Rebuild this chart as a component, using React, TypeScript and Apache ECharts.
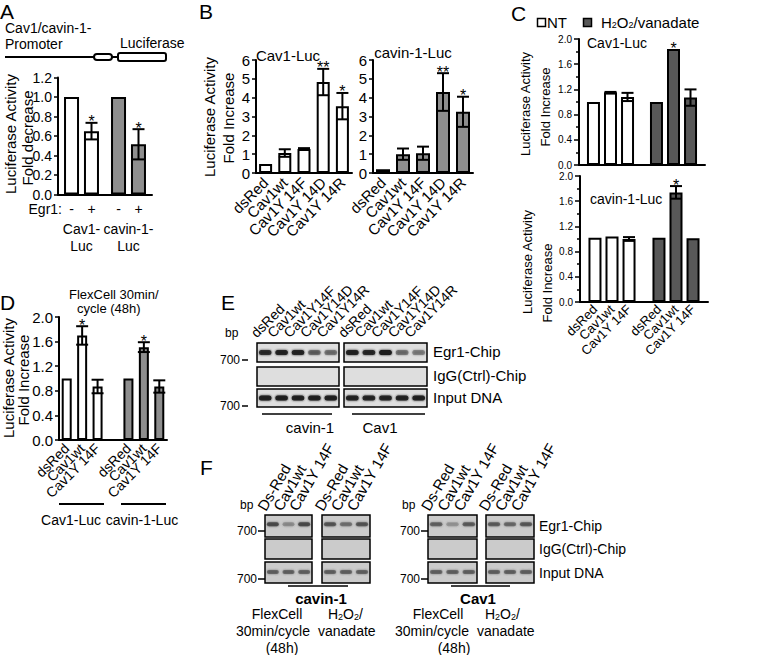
import React, { useEffect, useRef } from 'react';
import * as echarts from 'echarts';

const FONT = '"Liberation Sans", Arial, Helvetica, sans-serif';
const BLACK = '#000000';
const WHITE = '#ffffff';
const GRAY = '#8e8e8e';
const DARK = '#585858';

// ---------- Panel A ----------
const aCategories = ['Cav1-\nLuc', 'cavin-1-\nLuc'];
const aMinusValues = [1.0, 1.0];
const aPlusValues = [0.65, 0.515];
const aPlusErrors = [0.085, 0.155];
const aPlusStars = ['*', '*'];

// ---------- Panel B ----------
const bConstructs = ['dsRed', 'Cav1wt', 'Cav1Y 14F', 'Cav1Y 14D', 'Cav1Y 14R'];
const bCav1Values = [0.48, 1.06, 1.27, 4.83, 3.55];
const bCav1Errors = [0, 0.2, 0.05, 0.7, 0.7];
const bCav1Stars = ['', '', '', '**', '*'];
const bCavinValues = [0.2, 1.0, 1.05, 4.3, 3.25];
const bCavinErrors = [0, 0.3, 0.35, 1.0, 0.8];
const bCavinStars = ['', '', '', '**', '*'];

// ---------- Panel C ----------
const cGroups = ['NT', 'H2O2/vanadate'];
const cConstructs = ['dsRed', 'Cav1wt', 'Cav1Y 14F'];
const cCav1DsRed = [1.0, 1.0];
const cCav1Wt = [1.15, 1.84];
const cCav1Y14F = [1.08, 1.07];
const cCav1DsRedErr = [0, 0];
const cCav1WtErr = [0.01, 0];
const cCav1Y14FErr = [0.065, 0.13];
const cCav1WtStars = ['', '*'];
const cCavinDsRed = [1.02, 1.02];
const cCavinWt = [1.04, 1.74];
const cCavinY14F = [1.0, 1.01];
const cCavinDsRedErr = [0, 0];
const cCavinWtErr = [0, 0.1];
const cCavinY14FErr = [0.03, 0];
const cCavinWtStars = ['', '*'];

// ---------- Panel D ----------
const dConstructs = ['dsRed', 'Cav1wt', 'Cav1Y 14F'];
const dReporters = ['Cav1-Luc', 'cavin-1-Luc'];
const dCav1Values = [1.0, 1.7, 0.87];
const dCav1Errors = [0, 0.15, 0.11];
const dCav1Stars = ['', '*', ''];
const dCavinValues = [1.0, 1.51, 0.87];
const dCavinErrors = [0, 0.08, 0.1];
const dCavinStars = ['', '*', ''];

// ---------- Panel E (ChIP gels) ----------
const eLanes = ['dsRed', 'Cav1wt', 'Cav1Y14F', 'Cav1Y14D', 'Cav1Y14R'];
const eRows = ['Egr1-Chip', 'IgG(Ctrl)-Chip', 'Input DNA'];
const eCavin1Egr1 = [0.8, 0.9, 0.9, 0.45, 0.4];
const eCavin1IgG = [0, 0, 0, 0, 0];
const eCavin1Input = [0.95, 0.95, 0.92, 0.92, 0.95];
const eCav1Egr1 = [0.92, 0.85, 1.0, 0.4, 0.35];
const eCav1IgG = [0, 0, 0, 0, 0];
const eCav1Input = [0.9, 0.88, 0.88, 0.9, 0.92];

// ---------- Panel F (ChIP gels) ----------
const fLanes = ['Ds-Red', 'Cav1wt', 'Cav1Y 14F'];
const fCavin1FlexEgr1 = [0.75, 0.3, 0.75];
const fCavin1H2o2Egr1 = [0.65, 0.45, 0.65];
const fCav1FlexEgr1 = [0.55, 0.25, 0.6];
const fCav1H2o2Egr1 = [0.6, 0.5, 0.62];
const fNoBands = [0, 0, 0];
const fInput = [0.55, 0.55, 0.55];

// ---------------------------------------------------------------
const txt = (text: string, x: number, y: number, size: number, o: any = {}) => ({
  type: 'text',
  x,
  y,
  rotation: o.rotation || 0,
  silent: true,
  z: 50,
  style: {
    text,
    fill: BLACK,
    fontSize: size,
    fontFamily: FONT,
    fontWeight: o.weight || 'normal',
    align: o.align || 'left',
    verticalAlign: o.valign || 'middle',
    textAlign: o.align || 'left',
    textVerticalAlign: o.valign || 'middle',
    rich: o.rich,
  },
});
const vtxt = (text: string, x: number, y: number, size: number) =>
  txt(text, x, y, size, { rotation: Math.PI / 2, align: 'center', valign: 'middle' });
const line = (x1: number, y1: number, x2: number, y2: number, w = 2) => ({
  type: 'line',
  silent: true,
  z: 50,
  shape: { x1, y1, x2, y2 },
  style: { stroke: BLACK, lineWidth: w },
});
const h2o2Rich = (size: number) => ({
  n: { fontSize: size, fontFamily: FONT, fill: BLACK },
  s: { fontSize: Math.round(size * 0.62), fontFamily: FONT, fill: BLACK, verticalAlign: 'bottom' },
});

const gel = (x: number, y: number, w: number, h: number, bands: number[], bg: string, band: string, bh: number, pos = 0.5) => {
  const els: any[] = [
    { type: 'rect', silent: true, z: 40, shape: { x, y, width: w, height: h }, style: { fill: bg, stroke: BLACK, lineWidth: 1.5 } },
  ];
  const lw = w / bands.length;
  bands.forEach((b, i) => {
    if (b <= 0) return;
    const cx = x + lw * (i + 0.5);
    els.push({
      type: 'rect',
      silent: true,
      z: 41,
      shape: { x: cx - lw * 0.38, y: y + h * pos - bh / 2, width: lw * 0.76, height: bh, r: bh / 2 },
      style: { fill: band, opacity: b, shadowBlur: 2, shadowColor: band },
    });
  });
  return els;
};

const laneLabels = (x: number, w: number, labels: string[], y: number, rot: number, size: number, dx: number) =>
  labels.map((l, i) => txt(l, x + (w / labels.length) * (i + 0.5) + dx, y, size, { rotation: rot, align: 'left', valign: 'bottom' }));

function errorBars(axis: number, values: number[], errors: number[], stars: string[], offset: number, shift = 0, starSize = 16) {
  return {
    type: 'custom',
    xAxisIndex: axis,
    yAxisIndex: axis,
    silent: true,
    z: 10,
    clip: false,
    data: values.map((v, i) => [i + shift, v, errors[i] || 0, i]),
    renderItem: (params: any, api: any) => {
      const ci = api.value(0);
      const m = api.value(1);
      const e = api.value(2);
      const k = api.value(3);
      const top = api.coord([ci, m + e]);
      const bot = api.coord([ci, m - e]);
      const cx = top[0] + offset;
      const ls = { stroke: BLACK, lineWidth: 2 };
      const children: any[] = [];
      if (e > 0) {
        children.push({ type: 'line', shape: { x1: cx, y1: top[1], x2: cx, y2: bot[1] }, style: ls });
        children.push({ type: 'line', shape: { x1: cx - 6, y1: top[1], x2: cx + 6, y2: top[1] }, style: ls });
        children.push({ type: 'line', shape: { x1: cx - 6, y1: bot[1], x2: cx + 6, y2: bot[1] }, style: ls });
      }
      const s = stars[k];
      if (s) {
        children.push({
          type: 'text',
          x: cx,
          y: top[1] + 7,
          style: { text: s, fill: BLACK, fontSize: starSize, fontFamily: FONT, align: 'center', verticalAlign: 'bottom' },
        });
      }
      return { type: 'group', children };
    },
  };
}

const yAxisOf = (grid: number, max: number, interval: number, size: number, digits: number, extra: any = {}) => ({
  type: 'value',
  gridIndex: grid,
  min: 0,
  max,
  interval,
  axisLine: { show: true, lineStyle: { color: BLACK, width: 2 } },
  axisTick: { show: true, length: 4, lineStyle: { color: BLACK, width: 1.5 } },
  splitLine: { show: false },
  axisLabel: { color: BLACK, fontSize: size, fontFamily: FONT, margin: 6, formatter: (v: number) => v.toFixed(digits) },
  ...extra,
});
const xAxisOf = (grid: number, data: string[], label: any) => ({
  type: 'category',
  gridIndex: grid,
  data,
  axisLine: { show: true, onZero: false, lineStyle: { color: BLACK, width: 2 } },
  axisTick: { show: false },
  axisLabel: { color: BLACK, fontFamily: FONT, interval: 0, ...label },
});
const barStyle = { borderColor: BLACK, borderWidth: 2 };

function buildOption() {
  const cColors = [WHITE, DARK];
  const cSeries = (axis: number, names: string[], vals: number[][], errs: number[][], stars: string[][], withLabels: boolean) => {
    const out: any[] = [];
    names.forEach((n, s) => {
      out.push({
        type: 'bar',
        name: n,
        xAxisIndex: axis,
        yAxisIndex: axis,
        barWidth: 13,
        barGap: '31%',
        data: vals[s].map((v, g) => ({ value: v, itemStyle: { color: cColors[g] } })),
        itemStyle: barStyle,
        label: withLabels
          ? { show: true, position: 'bottom', distance: 5, rotate: 45, align: 'right', verticalAlign: 'middle', formatter: '{a}', fontSize: 13, fontFamily: FONT, color: BLACK }
          : { show: false },
      });
      out.push(errorBars(axis, vals[s], errs[s], stars[s], (s - 1) * 17));
    });
    return out;
  };

  const dCategories = [...dConstructs, '', ...dConstructs];
  const pad = ['-', '-', '-', '-'];

  const eGels: any[] = [];
  const eLefts = [257, 344];
  const eWidths = [82, 83];
  const eRowsY = [343, 367, 389];
  const eRowsH = [19, 19, 18];
  const eData = [
    [eCavin1Egr1, eCavin1IgG, eCavin1Input],
    [eCav1Egr1, eCav1IgG, eCav1Input],
  ];
  eData.forEach((rows, g) => {
    rows.forEach((bands, r) => eGels.push(...gel(eLefts[g], eRowsY[r], eWidths[g], eRowsH[r], bands, '#dedede', '#1a1a1a', 5)));
    eGels.push(...laneLabels(eLefts[g], eWidths[g], eLanes, 340, Math.PI / 4, 14, -7));
  });
  eRows.forEach((r, i) => eGels.push(txt(r, 433, eRowsY[i] + eRowsH[i] / 2 - 1, 15)));

  const fGels: any[] = [];
  const fLefts = [265, 322, 428, 486];
  const fWidths = [47, 48, 49, 48];
  const fRowsY = [515, 539, 562];
  const fRowsH = [22, 20, 21];
  const fData = [
    [fCavin1FlexEgr1, fNoBands, fInput],
    [fCavin1H2o2Egr1, fNoBands, fInput],
    [fCav1FlexEgr1, fNoBands, fInput],
    [fCav1H2o2Egr1, fNoBands, fInput],
  ];
  fData.forEach((rows, g) => {
    rows.forEach((bands, r) => fGels.push(...gel(fLefts[g], fRowsY[r], fWidths[g], fRowsH[r], bands, '#cbcbcb', '#3a3a3a', 4, r === 0 ? 0.42 : 0.48)));
    fGels.push(...laneLabels(fLefts[g], fWidths[g], fLanes, 513, Math.PI / 3, 15, -5));
  });
  eRows.forEach((r, i) => fGels.push(txt(r, 539, fRowsY[i] + fRowsH[i] / 2, 14)));

  const graphics: any[] = [
    // Panel A
    txt('A', 0, 1, 21, { valign: 'top' }),
    txt('Cav1/cavin-1-', 5, 28, 14),
    txt('Promoter', 5, 44, 14),
    txt('Luciferase', 120, 43, 14),
    line(5, 57, 94, 57),
    { type: 'rect', silent: true, shape: { x: 94, y: 54, width: 18, height: 6, r: 3 }, style: { fill: WHITE, stroke: BLACK, lineWidth: 2 } },
    line(112, 57, 118, 57),
    { type: 'rect', silent: true, shape: { x: 118, y: 53, width: 48, height: 8, r: 2 }, style: { fill: WHITE, stroke: BLACK, lineWidth: 2 } },
    vtxt('Luciferase Activity', 10, 134, 15),
    vtxt('Fold decrease', 27, 138, 15),
    txt('Egr1:', 62, 209, 14, { align: 'right' }),
    // Panel B
    txt('B', 199, 1, 21, { valign: 'top' }),
    txt('Cav1-Luc', 288, 55, 15, { align: 'center' }),
    txt('cavin-1-Luc', 413, 52, 15, { align: 'center' }),
    vtxt('Luciferase Activity', 209, 117, 15),
    vtxt('Fold Increase', 228, 118, 15),
    // Panel C
    txt('C', 511, 3, 21, { valign: 'top' }),
    { type: 'rect', silent: true, shape: { x: 537.5, y: 18.5, width: 8, height: 8 }, style: { fill: WHITE, stroke: BLACK, lineWidth: 1.5 } },
    txt(cGroups[0], 547, 22, 15),
    { type: 'rect', silent: true, shape: { x: 583.5, y: 18.5, width: 8, height: 8 }, style: { fill: DARK, stroke: BLACK, lineWidth: 1.5 } },
    txt('{n|H}{s|2}{n|O}{s|2}{n|/vanadate}', 601, 22, 15, { rich: h2o2Rich(15) }),
    vtxt('Luciferase Activity', 525, 104, 13),
    vtxt('Fold Increase', 545, 107, 13),
    txt('Cav1-Luc', 587, 43, 14),
    vtxt('Luciferase Activity', 527, 262, 13),
    vtxt('Fold Increase', 547, 283, 13),
    txt('cavin-1-Luc', 590, 199, 14),
    // Panel D
    txt('D', 0, 292, 21, { valign: 'top' }),
    txt('FlexCell 30min/', 69, 294, 13),
    txt('cycle (48h)', 77, 308, 13),
    vtxt('Luciferase Activity', 8, 378, 15),
    vtxt('Fold Increase', 23, 380, 15),
    line(59, 504, 104, 504),
    line(121, 504, 166, 504),
    txt(dReporters[0], 71, 520, 14, { align: 'center' }),
    txt(dReporters[1], 142, 520, 14, { align: 'center' }),
    // Panel E
    txt('E', 221, 292, 21, { valign: 'top' }),
    txt('bp', 225, 333, 12),
    txt('700', 240, 360, 12, { align: 'right' }),
    line(242, 360, 248, 360, 1.5),
    txt('700', 240, 406, 12, { align: 'right' }),
    line(242, 406, 248, 406, 1.5),
    ...eGels,
    line(262, 414, 332, 414, 1.5),
    line(352, 414, 425, 414, 1.5),
    txt('cavin-1', 310, 427, 15, { align: 'center' }),
    txt('Cav1', 380, 427, 15, { align: 'center' }),
    // Panel F
    txt('F', 200, 457, 21, { valign: 'top' }),
    txt('bp', 240, 505, 12),
    txt('bp', 402, 505, 12),
    txt('700', 257, 531, 12, { align: 'right' }),
    line(258, 531, 265, 531, 1.5),
    txt('700', 257, 579, 12, { align: 'right' }),
    line(258, 579, 265, 579, 1.5),
    txt('700', 420, 531, 12, { align: 'right' }),
    line(421, 531, 428, 531, 1.5),
    txt('700', 420, 579, 12, { align: 'right' }),
    line(421, 579, 428, 579, 1.5),
    ...fGels,
    line(288, 586, 348, 586, 1.5),
    line(451, 586, 510, 586, 1.5),
    txt('cavin-1', 321, 598, 15, { align: 'center', weight: 'bold' }),
    txt('Cav1', 478, 598, 15, { align: 'center', weight: 'bold' }),
    txt('FlexCell', 277, 614, 14, { align: 'center' }),
    txt('30min/cycle', 273, 631, 14, { align: 'center' }),
    txt('(48h)', 282, 648, 14, { align: 'center' }),
    txt('{n|H}{s|2}{n|O}{s|2}{n|/}', 328, 614, 14, { rich: h2o2Rich(14) }),
    txt('vanadate', 318, 631, 14),
    txt('FlexCell', 438, 614, 14, { align: 'center' }),
    txt('30min/cycle', 432, 631, 14, { align: 'center' }),
    txt('(48h)', 454, 648, 14, { align: 'center' }),
    txt('{n|H}{s|2}{n|O}{s|2}{n|/}', 485, 614, 14, { rich: h2o2Rich(14) }),
    txt('vanadate', 477, 631, 14),
  ];

  return {
    animation: false,
    backgroundColor: WHITE,
    textStyle: { fontFamily: FONT },
    grid: [
      { left: 58, top: 77.5, width: 94, height: 117 },
      { left: 256, top: 60, width: 96, height: 113 },
      { left: 373, top: 60, width: 100, height: 113 },
      { left: 579, top: 39, width: 126, height: 126 },
      { left: 580, top: 176, width: 128, height: 126 },
      { left: 59, top: 317, width: 108, height: 123 },
    ],
    xAxis: [
      xAxisOf(0, aCategories, { fontSize: 14, lineHeight: 17, margin: 26 }),
      xAxisOf(1, bConstructs, { fontSize: 15, rotate: 45, margin: 7 }),
      xAxisOf(2, bConstructs, { fontSize: 15, rotate: 45, margin: 7 }),
      xAxisOf(3, cGroups, { show: false }),
      xAxisOf(4, cGroups, { show: false }),
      xAxisOf(5, dCategories, { fontSize: 14, rotate: 45, margin: 6 }),
    ],
    yAxis: [
      yAxisOf(0, 1.2, 0.2, 14, 1),
      yAxisOf(1, 6, 1, 15, 0),
      yAxisOf(2, 6, 1, 15, 0),
      yAxisOf(3, 2, 0.4, 10, 1, {
        axisTick: { show: true, length: 5, lineStyle: { color: BLACK, width: 1.5 } },
        minorTick: { show: true, splitNumber: 2, length: 3, lineStyle: { color: BLACK, width: 1.5 } },
        axisLabel: { color: BLACK, fontSize: 10, fontFamily: FONT, margin: 7, formatter: (v: number) => v.toFixed(1) },
      }),
      yAxisOf(4, 2, 0.4, 10, 1, {
        axisTick: { show: true, length: 5, lineStyle: { color: BLACK, width: 1.5 } },
        minorTick: { show: true, splitNumber: 2, length: 3, lineStyle: { color: BLACK, width: 1.5 } },
        axisLabel: { color: BLACK, fontSize: 10, fontFamily: FONT, margin: 7, formatter: (v: number) => v.toFixed(1) },
      }),
      yAxisOf(5, 2, 0.4, 15, 1),
    ],
    series: [
      // A
      {
        type: 'bar', name: '-', xAxisIndex: 0, yAxisIndex: 0, barWidth: 15, barGap: '33%',
        data: aMinusValues.map((v, i) => ({ value: v, itemStyle: { color: i === 0 ? WHITE : GRAY } })),
        itemStyle: barStyle,
        label: { show: true, position: 'bottom', distance: 7, formatter: '{a}', fontSize: 14, fontFamily: FONT, color: BLACK },
      },
      {
        type: 'bar', name: '+', xAxisIndex: 0, yAxisIndex: 0, barWidth: 15, barGap: '33%',
        data: aPlusValues.map((v, i) => ({ value: v, itemStyle: { color: i === 0 ? WHITE : GRAY } })),
        itemStyle: barStyle,
        label: { show: true, position: 'bottom', distance: 7, formatter: '{a}', fontSize: 14, fontFamily: FONT, color: BLACK },
      },
      errorBars(0, aPlusValues, aPlusErrors, aPlusStars, 10),
      // B
      { type: 'bar', name: 'Cav1-Luc', xAxisIndex: 1, yAxisIndex: 1, barWidth: 13, data: bCav1Values, itemStyle: { ...barStyle, color: WHITE } },
      errorBars(1, bCav1Values, bCav1Errors, bCav1Stars, 0),
      { type: 'bar', name: 'cavin-1-Luc', xAxisIndex: 2, yAxisIndex: 2, barWidth: 14, data: bCavinValues, itemStyle: { ...barStyle, color: GRAY } },
      errorBars(2, bCavinValues, bCavinErrors, bCavinStars, 0),
      // C
      ...cSeries(3, cConstructs, [cCav1DsRed, cCav1Wt, cCav1Y14F], [cCav1DsRedErr, cCav1WtErr, cCav1Y14FErr], [[], cCav1WtStars, []], false),
      ...cSeries(4, cConstructs, [cCavinDsRed, cCavinWt, cCavinY14F], [cCavinDsRedErr, cCavinWtErr, cCavinY14FErr], [[], cCavinWtStars, []], true),
      // D
      { type: 'bar', name: dReporters[0], xAxisIndex: 5, yAxisIndex: 5, barWidth: 10, barGap: '-100%', data: [...dCav1Values, ...pad], itemStyle: { ...barStyle, color: WHITE } },
      { type: 'bar', name: dReporters[1], xAxisIndex: 5, yAxisIndex: 5, barWidth: 10, barGap: '-100%', data: [...pad, ...dCavinValues], itemStyle: { ...barStyle, color: GRAY } },
      errorBars(5, dCav1Values, dCav1Errors, dCav1Stars, 0, 0),
      errorBars(5, dCavinValues, dCavinErrors, dCavinStars, 0, 4),
    ],
    graphic: { elements: graphics },
  };
}

export default function App() {
  const ref = useRef<HTMLDivElement>(null);
  useEffect(() => {
    const chart = echarts.init(ref.current as HTMLDivElement, undefined, { renderer: 'svg' });
    chart.setOption(buildOption() as any);
    return () => chart.dispose();
  }, []);
  return (
    <div
      ref={ref}
      style={{ position: 'absolute', left: 0, top: 0, width: 765, height: 655, background: '#ffffff' }}
    />
  );
}
